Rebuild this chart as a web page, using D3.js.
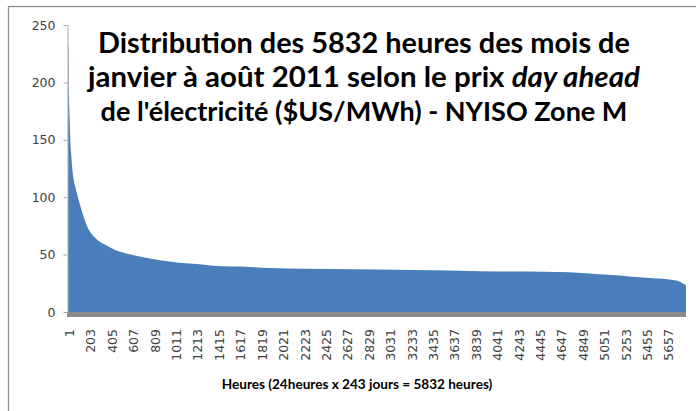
<!DOCTYPE html>
<html>
<head>
<meta charset="utf-8">
<script src="https://cdn.jsdelivr.net/npm/d3@7"></script>
<style>
  html, body { margin: 0; padding: 0; background: #fff; }
  svg { display: block; }
</style>
</head>
<body>
<svg id="chart"></svg>
<script>
// Price duration curve, hours sorted by price
const hours = [1, 5, 9, 12, 16, 22, 30, 42, 69, 100, 148, 195, 258, 352, 446, 572, 698, 868, 1050, 1245, 1368, 1717, 1906, 2236, 2700, 3226, 3700, 4075, 4500, 4736, 5019, 5330, 5520, 5708, 5775, 5810, 5832];
const prices = [234, 228, 192, 180, 168, 150, 138, 124, 109, 98, 83, 72, 64.5, 58.5, 54, 50.5, 48, 45, 43, 41.5, 40.2, 39.2, 38.4, 37.7, 37.2, 36.6, 36, 35.3, 35, 34.6, 32.8, 30.8, 29.3, 27.9, 26.4, 24.5, 23];

const totalHours = 5832;
const yTicks = [0, 50, 100, 150, 200, 250];
const xTickLabels = [1, 203, 405, 607, 809, 1011, 1213, 1415, 1617, 1819, 2021, 2223, 2425, 2627, 2829, 3031, 3233, 3435, 3637, 3839, 4041, 4243, 4445, 4647, 4849, 5051, 5253, 5455, 5657];

const titleLines = [
  [{ t: "Distribution des 5832 heures des mois de" }],
  [{ t: "janvier à août 2011 selon le prix " }, { t: "day ahead", italic: true }],
  [{ t: "de l'électricité ($US/MWh) - NYISO Zone M" }]
];
const xTitle = "Heures (24heures x 243 jours = 5832 heures)";

const width = 696;
const height = 411;
const marginLeft = 68;
const plotRight = 686;
const plotTop = 25;
const plotBottom = 312;

const svg = d3.select("#chart")
  .attr("width", width)
  .attr("height", height)
  .attr("viewBox", [0, 0, width, height]);

// chart frame
svg.append("rect")
  .attr("x", 8.5)
  .attr("y", 6.5)
  .attr("width", 720)
  .attr("height", 430)
  .attr("fill", "#fff")
  .attr("stroke", "#8f8f8f")
  .attr("stroke-width", 1.3);

const x = d3.scaleLinear()
  .domain([0.5, totalHours + 0.5])
  .range([marginLeft, plotRight]);

const y = d3.scaleLinear()
  .domain([0, 250])
  .range([plotBottom, plotTop]);

const data = hours.map((h, i) => ({ h: h, p: prices[i] }));

const area = d3.area()
  .x(d => x(d.h))
  .y0(y(0))
  .y1(d => y(d.p))
  .curve(d3.curveMonotoneX);

svg.append("path")
  .datum(data)
  .attr("fill", "#4a7ebb")
  .attr("d", area);

// thick grey floor along the category axis
svg.append("rect")
  .attr("x", marginLeft - 1)
  .attr("y", y(0))
  .attr("width", plotRight - marginLeft + 1)
  .attr("height", 5)
  .attr("fill", "#8a8a8a");

// Y axis
const yAxis = svg.append("g")
  .attr("transform", `translate(${marginLeft - 0.5},0)`)
  .call(d3.axisLeft(y).tickValues(yTicks).tickSize(4).tickPadding(8).tickSizeOuter(0));

yAxis.select(".domain").attr("stroke", "#a6a6a6");
yAxis.selectAll(".tick line").attr("stroke", "#a6a6a6");
yAxis.selectAll(".tick text")
  .attr("fill", "#404040")
  .style("font-family", "'DejaVu Sans', sans-serif")
  .style("font-size", "12.5px");

// X tick labels, rotated
const xAxis = svg.append("g")
  .attr("transform", `translate(1,${plotBottom + 17})`)
  .call(d3.axisBottom(x).tickValues(xTickLabels).tickFormat(d3.format("d")).tickSize(0).tickPadding(0));

xAxis.select(".domain").remove();
xAxis.selectAll(".tick text")
  .attr("transform", "rotate(-90)")
  .attr("text-anchor", "end")
  .attr("x", 0)
  .attr("y", 0)
  .attr("dy", "0.36em")
  .attr("fill", "#404040")
  .style("font-family", "'DejaVu Sans', sans-serif")
  .style("font-size", "12.5px");

// fit helper: scale font so text spans the measured width
function fitText(sel, target) {
  const w = sel.node().getComputedTextLength();
  const fs = parseFloat(sel.style("font-size"));
  sel.style("font-size", (fs * target / w) + "px");
}

// title
const titleFont = "Lato, 'Open Sans', sans-serif";
const titleBase = [53, 87, 121];
const titleWidth = [532, 552, 527];
titleLines.forEach((parts, i) => {
  const t = svg.append("text")
    .attr("x", 364)
    .attr("y", titleBase[i])
    .attr("text-anchor", "middle")
    .attr("fill", "#000")
    .style("font-family", titleFont)
    .style("font-weight", "bold")
    .style("font-size", "28px");
  parts.forEach(p => {
    t.append("tspan")
      .style("font-style", p.italic ? "italic" : "normal")
      .text(p.t);
  });
  fitText(t, titleWidth[i]);
});

// x axis title
const xt = svg.append("text")
  .attr("x", 357)
  .attr("y", 389)
  .attr("text-anchor", "middle")
  .attr("fill", "#000")
  .style("font-family", titleFont)
  .style("font-weight", "bold")
  .style("font-size", "13px")
  .text(xTitle);
fitText(xt, 271);
</script>
</body>
</html>
